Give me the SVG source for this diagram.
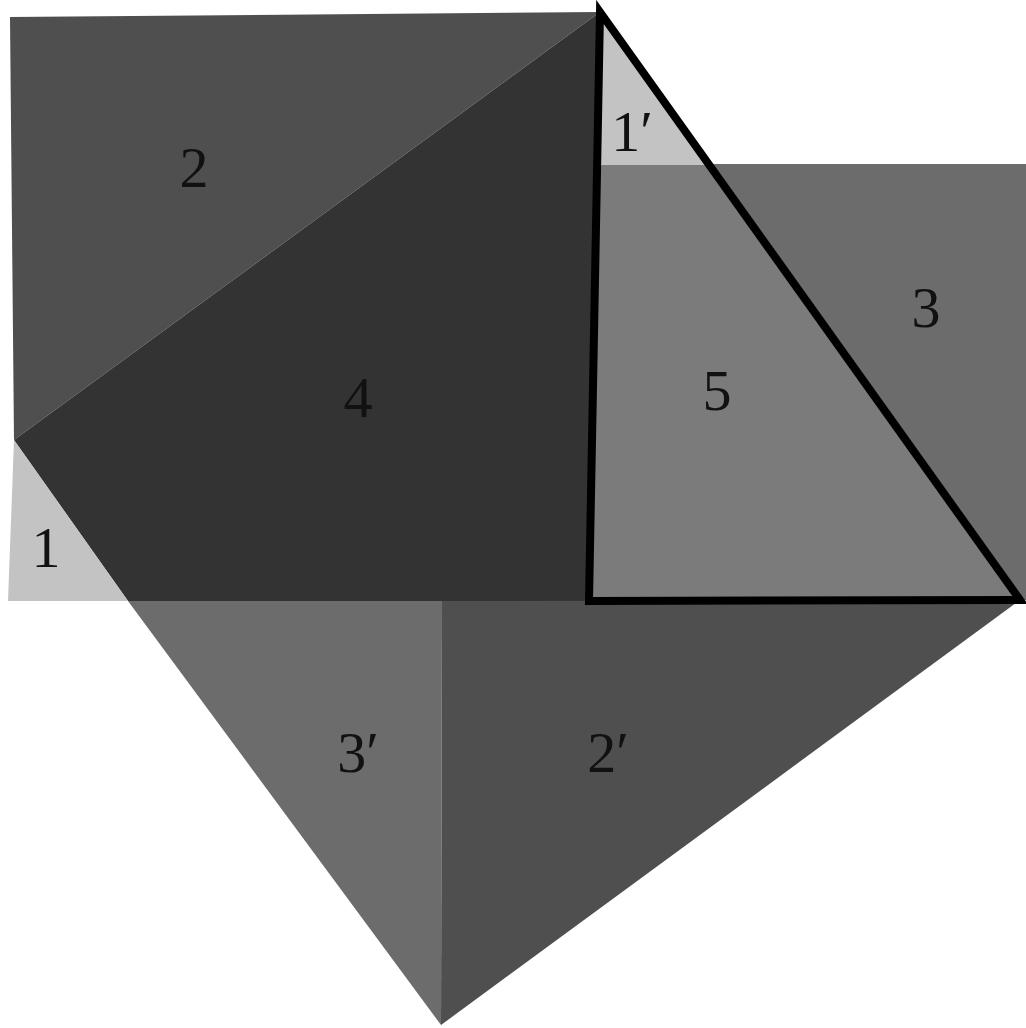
<svg xmlns="http://www.w3.org/2000/svg" width="1026" height="1028" viewBox="0 0 1026 1028">
<style>
.light{fill:#c3c3c3}
.dark{fill:#4f4f4f}
.darkest{fill:#333333}
.mid{fill:#6c6c6c}
.mid2{fill:#7b7b7b}
.lbl{font-family:"Liberation Serif",serif;font-size:58px;fill:#111;text-anchor:middle}
.tri{fill:none;stroke:#000;stroke-width:8;stroke-linejoin:miter}
</style>
<rect width="1026" height="1028" fill="#fff"/>
<g id="region-2"><polygon class="dark" points="10,17 600,12 14,440"/><text class="lbl" x="194" y="187">2</text></g>
<g id="region-4"><polygon class="darkest" points="14,440 600,12 589,601 128,601"/><text class="lbl" x="358" y="417">4</text></g>
<g id="region-1"><polygon class="light" points="14,440 128,601 8,601"/><text class="lbl" x="46" y="567">1</text></g>
<g id="region-1p"><polygon class="light" points="600,12 600,165 709,165"/><text class="lbl" x="632" y="151">1′</text></g>
<g id="region-3"><polygon class="mid" points="709,164 1026,164 1026,600 1020,600"/><text class="lbl" x="926" y="327">3</text></g>
<g id="region-5"><polygon class="mid2" points="600,165 709,165 1020,600 589,601"/><text class="lbl" x="717" y="410">5</text></g>
<g id="region-3p"><polygon class="mid" points="128,601 442,601 441,1025"/><text class="lbl" x="358" y="772">3′</text></g>
<g id="region-2p"><polygon class="dark" points="442,601 1020,600 441,1025"/><text class="lbl" x="608" y="772">2′</text></g>
<g id="connectors"><polygon class="tri" points="600,12 1020,600 589,601"/></g>
</svg>
